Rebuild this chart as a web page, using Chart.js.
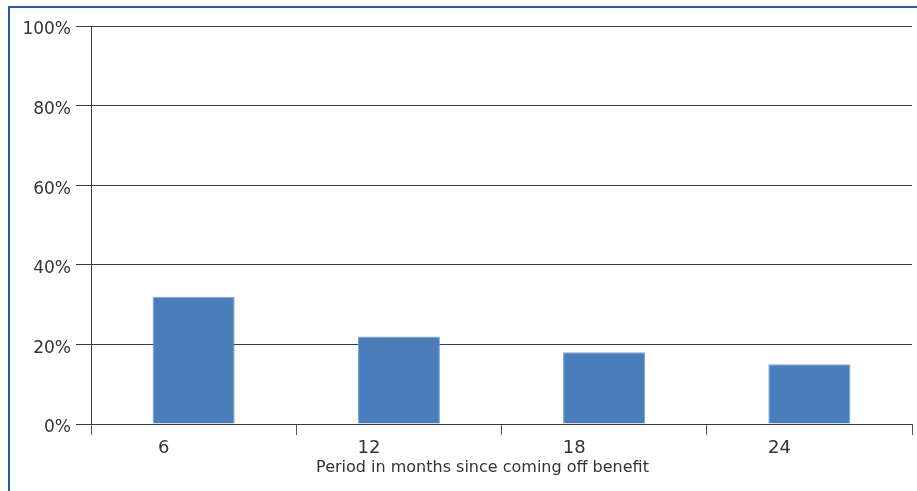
<!DOCTYPE html>
<html>
<head>
<meta charset="utf-8">
<script src="https://cdn.jsdelivr.net/npm/chart.js@4.4.0/dist/chart.umd.min.js"></script>
<style>
  html, body { margin: 0; padding: 0; background: #fff; }
  canvas { display: block; }
</style>
</head>
<body>
<canvas id="mycanvas" width="917" height="491"></canvas>
<script>
// data
var months = ['6', '12', '18', '24'];
var share = [32, 22, 18, 15];
var yTicks = [0, 20, 40, 60, 80, 100];
var xTitle = 'Period in months since coming off benefit';

var font = "'DejaVu Sans', Arial, sans-serif";
var gridCol = '#3a3a3a';

// blue frame round the figure and the axis title (drawn a bit left of centre like the original)
var framePlugin = {
	id: 'frame',
	afterDraw: function(chart) {
		var ctx = chart.ctx;
		var a = chart.chartArea;
		ctx.save();
		ctx.strokeStyle = '#2b5a98';
		ctx.lineWidth = 2;
		ctx.beginPath();
		ctx.moveTo(9, 491);
		ctx.lineTo(9, 7);
		ctx.lineTo(917, 7);
		ctx.stroke();

		ctx.fillStyle = '#333';
		ctx.font = '16px ' + font;
		ctx.textAlign = 'center';
		ctx.textBaseline = 'middle';
		ctx.fillText(xTitle, (a.left + a.right) / 2 - 19, 468);
		ctx.restore();
	}
};

var ctx = document.getElementById('mycanvas');

var barGraph = new Chart(ctx, {
	type: 'bar',
	data: {
		labels: months,
		datasets: [{
			label: 'Share',
			data: share,
			backgroundColor: '#4a7ebb',
			borderColor: '#7ca3d6',
			borderWidth: 1,
			barPercentage: 0.4,
			categoryPercentage: 1
		}]
	},
	options: {
		responsive: false,
		animation: false,
		layout: { padding: { left: 0, right: 5, top: 26, bottom: 0 } },
		plugins: {
			legend: { display: false },
			tooltip: { enabled: false }
		},
		scales: {
			x: {
				offset: true,
				grid: {
					offset: true,
					drawOnChartArea: false,
					drawTicks: true,
					tickLength: 11,
					color: '#555',
					lineWidth: 1
				},
				border: { display: true, color: gridCol, width: 1 },
				ticks: {
					color: '#333',
					font: { family: font, size: 18 },
					padding: 3,
					labelOffset: -30,
					maxRotation: 0
				},
				afterFit: function(scale) { scale.height = 67; }
			},
			y: {
				min: 0,
				max: 100,
				afterBuildTicks: function(scale) {
					scale.ticks = yTicks.map(function(v) { return { value: v }; });
				},
				grid: {
					color: gridCol,
					lineWidth: 1,
					drawTicks: true,
					tickLength: 15
				},
				border: { display: true, color: gridCol, width: 1 },
				ticks: {
					color: '#333',
					font: { family: font, size: 17 },
					padding: 5,
					labelOffset: 4,
					callback: function(v) { return v + '%'; }
				},
				afterFit: function(scale) { scale.width = 91; }
			}
		}
	},
	plugins: [framePlugin]
});
</script>
</body>
</html>
